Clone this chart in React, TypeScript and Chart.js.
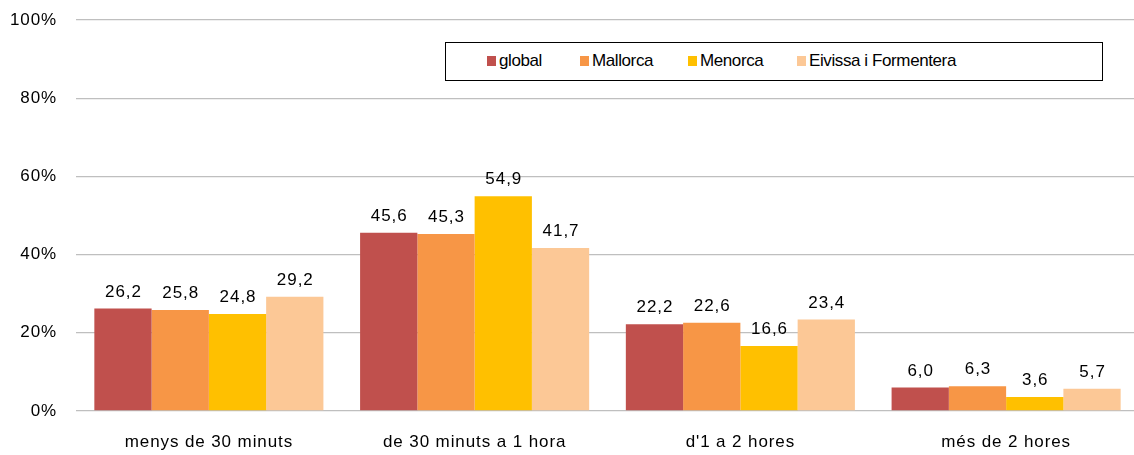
import React, { useEffect, useRef } from "react";
import { Chart, registerables } from "chart.js";

Chart.register(...registerables);

const categories = ["menys de 30 minuts", "de 30 minuts a 1 hora", "d'1 a 2 hores", "més de 2 hores"];
const seriesNames = ["global", "Mallorca", "Menorca", "Eivissa i Formentera"];
const globalValues = [26.2, 45.6, 22.2, 6.0];
const mallorcaValues = [25.8, 45.3, 22.6, 6.3];
const menorcaValues = [24.8, 54.9, 16.6, 3.6];
const eivissaValues = [29.2, 41.7, 23.4, 5.7];
const seriesColors = ["#C0504D", "#F79646", "#FFC000", "#FCC896"];
const yTicks = [0, 20, 40, 60, 80, 100];

const FONT = "'Liberation Sans', Arial, sans-serif";

const spacing = {
  id: "spacing",
  beforeDraw(chart: any) {
    (chart.ctx as any).letterSpacing = "0.9px";
  },
};

const valueLabels = {
  id: "valueLabels",
  afterDatasetsDraw(chart: any) {
    const ctx = chart.ctx;
    ctx.save();
    (ctx as any).letterSpacing = "1px";
    ctx.font = `17px ${FONT}`;
    ctx.fillStyle = "#000";
    ctx.textAlign = "center";
    ctx.textBaseline = "alphabetic";
    chart.data.datasets.forEach((ds: any, i: number) => {
      const meta = chart.getDatasetMeta(i);
      meta.data.forEach((bar: any, j: number) => {
        const v = ds.data[j] as number;
        ctx.fillText(v.toFixed(1).replace(".", ","), bar.x + 0.5, bar.y - 12);
      });
    });
    ctx.restore();
  },
};

export default function App() {
  const ref = useRef<HTMLCanvasElement | null>(null);
  useEffect(() => {
    document.body.style.margin = "0";
    const values = [globalValues, mallorcaValues, menorcaValues, eivissaValues];
    const chart = new Chart(ref.current!, {
      type: "bar",
      data: {
        labels: categories,
        datasets: seriesNames.map((name, i) => ({
          label: name,
          data: values[i],
          backgroundColor: seriesColors[i],
          borderWidth: 0,
          barPercentage: 1,
          categoryPercentage: 0.862,
        })),
      },
      options: {
        responsive: false,
        animation: false,
        layout: { padding: { top: 20, right: 0, left: 0, bottom: 0 } },
        plugins: { legend: { display: false }, tooltip: { enabled: false } },
        scales: {
          x: {
            grid: { display: false },
            border: { display: false },
            ticks: { color: "#000", font: { family: FONT, size: 17 }, padding: 13 },
            afterFit: (axis: any) => {
              axis.height = 44;
            },
          },
          y: {
            min: 0,
            max: 100,
            afterBuildTicks: (axis: any) => {
              axis.ticks = yTicks.map((v) => ({ value: v }));
            },
            afterFit: (axis: any) => {
              axis.width = 76;
              axis.paddingTop = 0;
              axis.paddingBottom = 0;
            },
            grid: { color: "#BFBFBF", lineWidth: 1.3, drawTicks: false },
            border: { display: false },
            ticks: {
              color: "#000",
              font: { family: FONT, size: 17 },
              padding: 19,
              callback: (v: any) => `${v}%`,
            },
          },
        },
      },
      plugins: [spacing, valueLabels],
    });
    return () => chart.destroy();
  }, []);

  const legendItems = [
    { left: 487, textLeft: 499 },
    { left: 580, textLeft: 592 },
    { left: 688, textLeft: 700 },
    { left: 797, textLeft: 809 },
  ];

  return (
    <div style={{ position: "relative", width: 1134, height: 455, overflow: "hidden", fontFamily: FONT }}>
      <canvas ref={ref} width={1139} height={455} style={{ display: "block" }} />
      <div
        style={{
          position: "absolute",
          left: 445,
          top: 42,
          width: 656,
          height: 37,
          border: "1.5px solid #000",
          background: "#fff",
        }}
      />
      {legendItems.map((it, i) => (
        <React.Fragment key={seriesNames[i]}>
          <div
            style={{
              position: "absolute",
              left: it.left,
              top: 56,
              width: 9,
              height: 10,
              background: seriesColors[i],
            }}
          />
          <div
            style={{
              position: "absolute",
              left: it.textLeft,
              top: 51,
              fontSize: 17,
              letterSpacing: "-0.4px",
              lineHeight: "20px",
              color: "#000",
              whiteSpace: "nowrap",
            }}
          >
            {seriesNames[i]}
          </div>
        </React.Fragment>
      ))}
    </div>
  );
}
